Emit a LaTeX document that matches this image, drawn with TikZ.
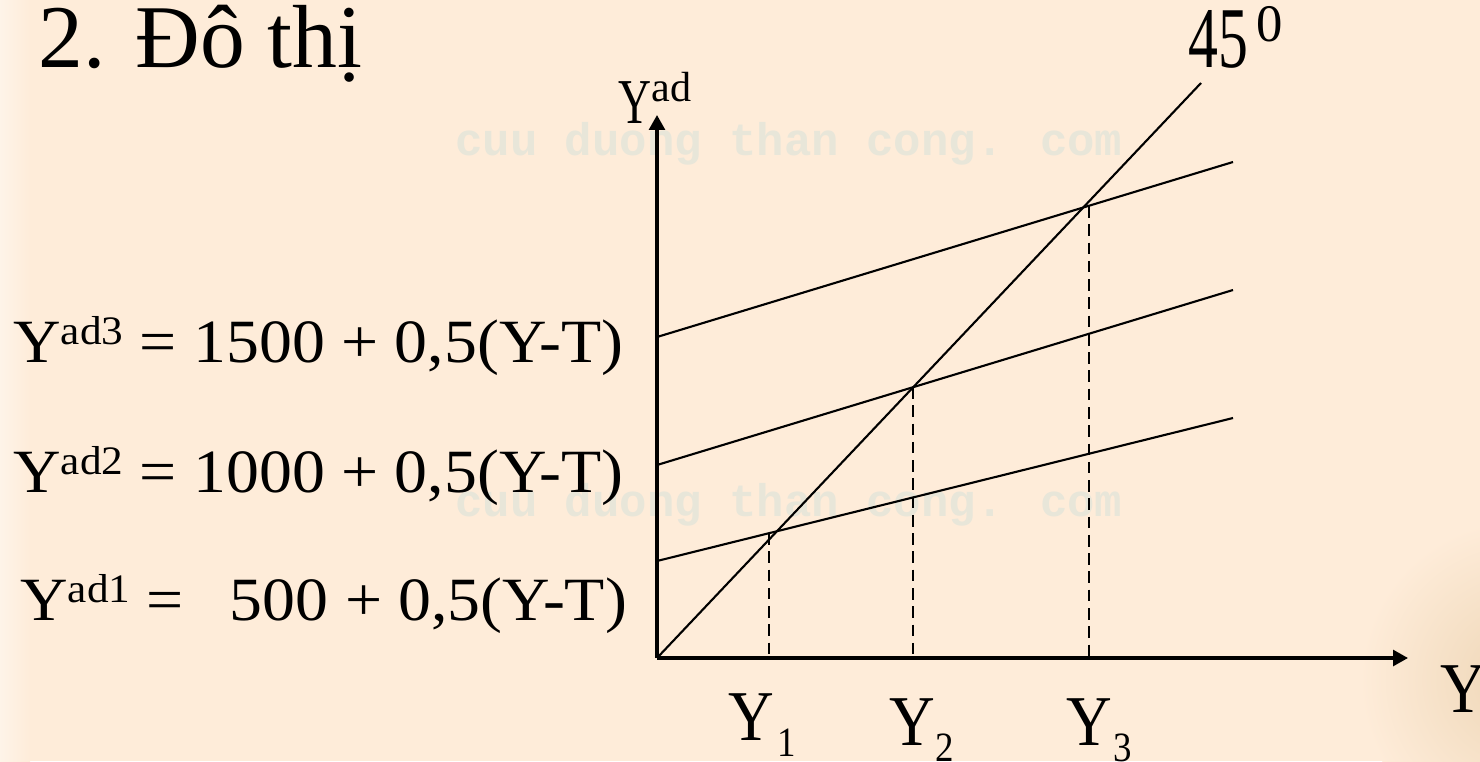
\documentclass[tikz,border=0pt]{standalone}
\usepackage{fontspec}
\setmainfont{Liberation Serif}
\newfontfamily\wmfont{Liberation Mono}
\usetikzlibrary{arrows.meta}
\definecolor{parchment}{RGB}{254,236,217}
\definecolor{wmgray}{RGB}{232,230,217}
\definecolor{texture}{RGB}{238,214,182}
\newcommand{\adsup}[1]{\raisebox{10pt}{\fontsize{23}{23}\selectfont #1}}
\newcommand{\ysub}[1]{\raisebox{-8.5pt}{\fontsize{21}{21}\selectfont #1}}

\begin{document}
\begin{tikzpicture}[x=0.02cm,y=-0.02cm,
  axis/.style={line width=1.8pt,-{Triangle[length=8.5pt,width=9pt]}},
  adline/.style={line width=1.2pt},
  drop/.style={line width=1.3pt,dash pattern=on 6.6pt off 3.8pt},
  eqtext/.style={anchor=base west,inner sep=0pt,font=\fontsize{35}{40}\selectfont},
  ylab/.style={anchor=base west,inner sep=0pt,font=\fontsize{36}{40}\selectfont},
  wmark/.style={anchor=base west,inner sep=0pt,text=wmgray,font=\wmfont\bfseries\fontsize{26}{30}\selectfont}]
\fill[parchment] (0,0) rectangle (1480,761);
\useasboundingbox (0,0) rectangle (1480,761);
\begin{scope}
\clip (0,0) rectangle (1480,761);
\shade[inner color=texture,outer color=parchment] (1520,680) circle (160);
\shade[left color=parchment!60!white,right color=parchment] (0,0) rectangle (30,761);
\end{scope}
% watermark
\node[wmark] (wm1) at (455,155) {cuu duong than cong. com};
\node[wmark] (wm2) at (455,516) {cuu duong than cong. com};
% title
\node[anchor=base west,inner sep=0pt,font=\fontsize{51}{58}\selectfont] (title) at (38,67) {2. Đô thị};
% axes
\coordinate (O) at (657,658);
\coordinate (ytop) at (657,115);
\coordinate (xend) at (1408,658);
\draw[axis] (O) -- (ytop);
\draw[axis] (O) -- (xend);
\node[anchor=base west,inner sep=0pt] (yad) at (618,123)
  {\scalebox{1}[1.4]{\fontsize{26}{28}\selectfont Y}\raisebox{12pt}{\fontsize{24}{24}\selectfont ad}};
\node[ylab] (ylabel) at (1440,712) {\scalebox{1}[1.13]{Y}};
% 45 degree line
\coordinate (d45) at (1201,83);
\draw[adline] (O) -- (d45);
\node[anchor=base west,inner sep=0pt] (deg) at (1188,67)
  {\scalebox{1}[1.45]{\fontsize{34}{38}\selectfont 45}\hspace{5pt}\raisebox{14.5pt}{\fontsize{30}{30}\selectfont 0}};
% aggregate demand lines
\coordinate (a1) at (657,561);  \coordinate (b1) at (1233,418);
\coordinate (a2) at (657,465);  \coordinate (b2) at (1233,290);
\coordinate (a3) at (657,337);  \coordinate (b3) at (1233,162);
\draw[adline] (a1) -- (b1);
\draw[adline] (a2) -- (b2);
\draw[adline] (a3) -- (b3);
\node[eqtext] (eq3) at (13,362) {\scalebox{1.07}[1]{Y\adsup{ad3} = 1500 + 0,5(Y-T)}};
\node[eqtext] (eq2) at (13,492) {\scalebox{1.07}[1]{Y\adsup{ad2} = 1000 + 0,5(Y-T)}};
\node[eqtext] (eq1) at (20,620) {\scalebox{1.07}[1]{Y\adsup{ad1} =\ \ \hspace{7pt}500 + 0,5(Y-T)}};
% equilibria
\coordinate (e1) at (769,533);
\coordinate (e2) at (913,387);
\coordinate (e3) at (1089,206);
\draw[drop] (e1) -- (e1 |- O);
\draw[drop] (e2) -- (e2 |- O);
\draw[drop] (e3) -- (e3 |- O);
\node[ylab] (y1) at (728,740) {\scalebox{1}[1.13]{Y\hspace{2pt}\ysub{1}}};
\node[ylab] (y2) at (889,745) {\scalebox{1}[1.13]{Y\ysub{2}}};
\node[ylab] (y3) at (1066,745) {\scalebox{1}[1.13]{Y\hspace{1pt}\ysub{3}}};
\end{tikzpicture}
\end{document}
